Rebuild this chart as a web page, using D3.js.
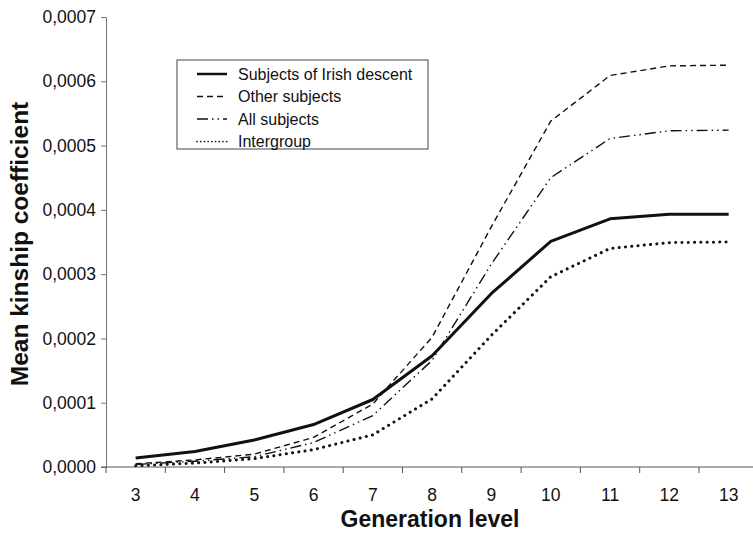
<!DOCTYPE html>
<html>
<head>
<meta charset="utf-8">
<script src="https://cdn.jsdelivr.net/npm/d3@7"></script>
<style>
  body { margin: 0; background: #fff; }
  text { font-family: Arial, "Liberation Sans", Helvetica, sans-serif; fill: #111; }
</style>
</head>
<body>
<div id="chart"></div>
<script>
// generation levels (x categories)
var generations = [3, 4, 5, 6, 7, 8, 9, 10, 11, 12, 13];

// mean kinship per group
var irish      = [0.000014, 0.000024, 0.000042, 0.000066, 0.000105, 0.000173, 0.000270, 0.000351, 0.000386, 0.000393, 0.000393];
var other      = [0.000005, 0.000011, 0.000020, 0.000046, 0.000098, 0.000202, 0.000374, 0.000538, 0.000609, 0.000624, 0.000625];
var all        = [0.000004, 0.000009, 0.000016, 0.000038, 0.000080, 0.000166, 0.000316, 0.000450, 0.000511, 0.000523, 0.000524];
var intergroup = [0.000002, 0.000006, 0.000013, 0.000027, 0.000050, 0.000106, 0.000205, 0.000296, 0.000340, 0.000349, 0.000350];

var seriesNames = ["Subjects of Irish descent", "Other subjects", "All subjects", "Intergroup"];
var yTicks = [0, 0.0001, 0.0002, 0.0003, 0.0004, 0.0005, 0.0006, 0.0007];

var width = 753;
var height = 533;
var margin = {left: 106, top: 17, bottom: 66};

var series = [
  {name: seriesNames[0], values: irish,      width: 3,   dash: null,            cap: "butt"},
  {name: seriesNames[1], values: other,      width: 1.4, dash: "6,4",           cap: "butt"},
  {name: seriesNames[2], values: all,        width: 1.4, dash: "11,4,1.5,4,1.5,4", cap: "butt"},
  {name: seriesNames[3], values: intergroup, width: 3,   dash: "0.1,6.2",       cap: "round"}
];

var svg = d3.select("#chart") // main svg
  .append("svg")
  .attr("width", width)
  .attr("height", height);

var x = d3.scaleBand() // one band per generation, axis runs off the right edge
  .domain(generations)
  .range([margin.left, margin.left + 59.3 * generations.length]);

var y = d3.scaleLinear()
  .domain([0, 0.0007])
  .range([height - margin.bottom, margin.top]);

// y axis
var yAxis = svg.append("g")
  .attr("transform", "translate(" + margin.left + ",0)")
  .call(d3.axisLeft(y)
    .tickValues(yTicks)
    .tickSize(5)
    .tickPadding(5)
    .tickFormat(function(d) { return d3.format(".4f")(d).replace(".", ","); }));
yAxis.select(".domain").attr("stroke", "#777");
yAxis.selectAll(".tick line").attr("stroke", "#777");
yAxis.selectAll("text").style("font-size", "17.5px").attr("fill", "#111");

// x axis, ticks between categories
var xAxis = svg.append("g")
  .attr("transform", "translate(0," + y(0) + ")");
xAxis.append("line")
  .attr("x1", margin.left - 5)
  .attr("x2", width)
  .attr("stroke", "#555");
xAxis.selectAll(".xtick")
  .data(generations)
  .enter()
  .append("line")
  .attr("x1", function(d) { return x(d); })
  .attr("x2", function(d) { return x(d); })
  .attr("y2", 6)
  .attr("stroke", "#555");
xAxis.selectAll(".xlabel")
  .data(generations)
  .enter()
  .append("text")
  .attr("x", function(d) { return x(d) + x.bandwidth() / 2; })
  .attr("y", 34)
  .attr("text-anchor", "middle")
  .style("font-size", "17.5px")
  .text(function(d) { return d; });

// axis titles
svg.append("text")
  .attr("x", 430)
  .attr("y", 527)
  .attr("text-anchor", "middle")
  .style("font-size", "23px")
  .style("font-weight", "bold")
  .text("Generation level");

svg.append("text")
  .attr("transform", "translate(28,244) rotate(-90)")
  .attr("text-anchor", "middle")
  .style("font-size", "24.5px")
  .style("font-weight", "bold")
  .text("Mean kinship coefficient");

// lines
var line = d3.line()
  .x(function(d, i) { return x(generations[i]) + x.bandwidth() / 2; })
  .y(function(d) { return y(d); });

svg.selectAll(".series")
  .data(series)
  .enter()
  .append("path")
  .attr("fill", "none")
  .attr("stroke", "#111")
  .attr("stroke-width", function(d) { return d.width; })
  .attr("stroke-dasharray", function(d) { return d.dash; })
  .attr("stroke-linecap", function(d) { return d.cap; })
  .attr("stroke-linejoin", "round")
  .attr("d", function(d) { return line(d.values); });

// legend
var legendX = 177, legendY = 60, rowGap = 22.5;
svg.append("rect")
  .attr("x", legendX)
  .attr("y", legendY)
  .attr("width", 251)
  .attr("height", 89)
  .attr("fill", "#fff")
  .attr("stroke", "#444");

var legend = svg.selectAll(".legend")
  .data(series)
  .enter()
  .append("g")
  .attr("transform", function(d, i) {
    return "translate(" + (legendX + 20) + "," + (legendY + 14 + i * rowGap) + ")";
  });

legend.append("line")
  .attr("x1", 0)
  .attr("x2", 30)
  .attr("stroke", "#111")
  .attr("stroke-width", function(d) { return d.width === 3 && d.cap === "butt" ? 2.5 : (d.cap === "round" ? 1.7 : 1.4); })
  .attr("stroke-dasharray", function(d) { return d.cap === "round" ? "0.1,3.6" : d.dash; })
  .attr("stroke-linecap", function(d) { return d.cap; });

legend.append("text")
  .attr("x", 41)
  .attr("y", 5.5)
  .style("font-size", "16px")
  .text(function(d) { return d.name; });
</script>
</body>
</html>
